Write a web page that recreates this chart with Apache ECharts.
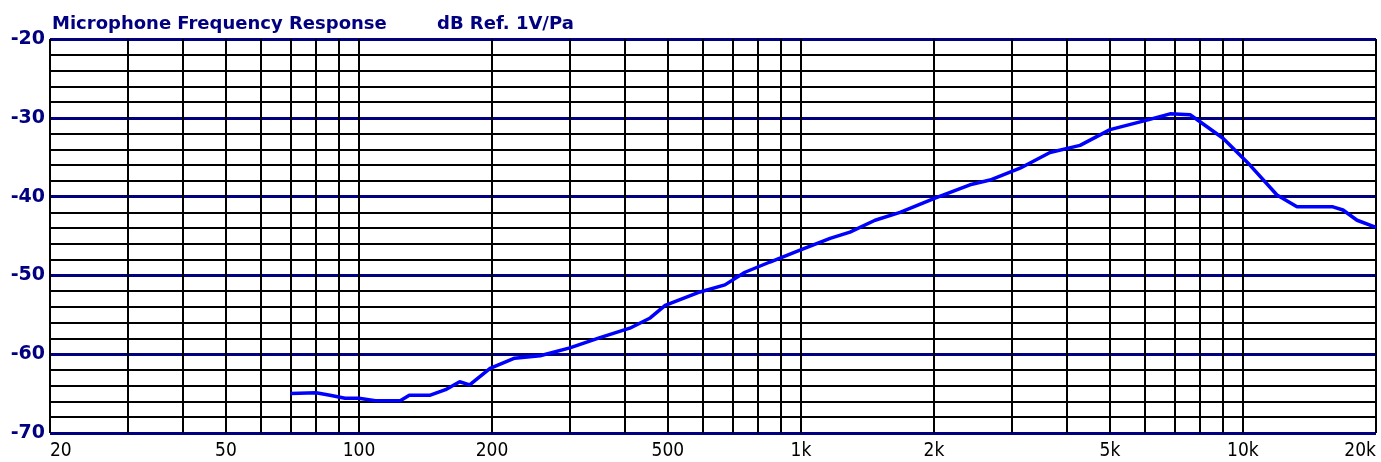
<!DOCTYPE html>
<html>
<head>
<meta charset="utf-8">
<script src="https://cdn.jsdelivr.net/npm/echarts@6/dist/echarts.min.js"></script>
<style>
  html, body { margin: 0; padding: 0; background: #fff; }
  #chart { width: 1381px; height: 462px; }
</style>
</head>
<body>
<div id="chart"></div>
<script>
// frequency (Hz) and response (dB ref 1V/Pa)
const freqs = [70, 80, 86, 93, 100, 109, 124, 130, 145, 157, 169, 178, 198, 225, 257, 300, 351, 410, 456, 493,
  591, 673, 747, 851, 995, 1164, 1291, 1471, 1676, 2011, 2412, 2677, 3131, 3660, 4280, 5004, 6065, 6840,
  7592, 7997, 9014, 10372, 11940, 13252, 15980, 16840, 18120, 20000];
const levels = [-65.0, -64.9, -65.2, -65.6, -65.6, -65.9, -65.9, -65.2, -65.2, -64.5, -63.5, -63.9, -61.8, -60.5, -60.2, -59.2, -57.9, -56.7, -55.4, -53.8,
  -52.1, -51.2, -49.6, -48.3, -46.8, -45.3, -44.5, -43.0, -42.0, -40.2, -38.5, -37.9, -36.4, -34.4, -33.5, -31.5, -30.3, -29.5,
  -29.6, -30.5, -32.6, -36.0, -39.8, -41.3, -41.3, -41.7, -43.0, -43.9];

const xTickLabels = [20, 50, 100, 200, 500, 1000, 2000, 5000, 10000, 20000];
const xGridLines = [20, 30, 40, 50, 60, 70, 80, 90, 100, 200, 300, 400, 500, 600, 700, 800, 900,
  1000, 2000, 3000, 4000, 5000, 6000, 7000, 8000, 9000, 10000, 20000];

const navy = '#000080';
const data = freqs.map((f, i) => [f, levels[i]]);

const chart = echarts.init(document.getElementById('chart'));
chart.setOption({
  animation: false,
  title: [
    { text: 'Microphone Frequency Response', left: 47, top: 10,
      textStyle: { color: navy, fontSize: 18, fontWeight: 'bold', fontFamily: 'DejaVu Sans' } },
    { text: 'dB Ref. 1V/Pa', left: 432, top: 10,
      textStyle: { color: navy, fontSize: 18, fontWeight: 'bold', fontFamily: 'DejaVu Sans' } }
  ],
  grid: { left: 50, right: 5, top: 39, bottom: 29, containLabel: false },
  xAxis: {
    type: 'log', logBase: 10, min: 20, max: 20000,
    axisLine: { show: false },
    axisTick: { show: false },
    splitLine: { show: false },
    minorSplitLine: { show: false },
    axisLabel: {
      customValues: xTickLabels,
      alignMinLabel: 'left', alignMaxLabel: 'right',
      margin: 9, color: '#000', fontSize: 19, fontFamily: 'DejaVu Sans Condensed',
      formatter: v => v >= 1000 ? (v / 1000) + 'k' : String(v)
    }
  },
  yAxis: [
    {
      type: 'value', min: -70, max: -20, interval: 2,
      axisLine: { show: false }, axisTick: { show: false },
      axisLabel: { show: false },
      splitLine: { show: true, lineStyle: { color: '#000', width: 2 } }
    },
    {
      type: 'value', min: -70, max: -20, interval: 10, position: 'left',
      axisLine: { show: false }, axisTick: { show: false },
      axisLabel: { margin: 5, color: navy, fontSize: 19, fontWeight: 'bold', fontFamily: 'DejaVu Sans' },
      splitLine: { show: true, lineStyle: { color: navy, width: 3 } }
    }
  ],
  series: [
    {
      type: 'line', data: [], yAxisIndex: 0, z: 1, silent: true,
      markLine: {
        silent: true, symbol: 'none', label: { show: false },
        lineStyle: { color: '#000', width: 2, type: 'solid' },
        data: xGridLines.map(v => ({ xAxis: v }))
      }
    },
    {
      type: 'line', data: data, yAxisIndex: 0, z: 5,
      showSymbol: false, smooth: false,
      lineStyle: { color: '#0000ff', width: 3.5 }
    }
  ]
});
</script>
</body>
</html>
